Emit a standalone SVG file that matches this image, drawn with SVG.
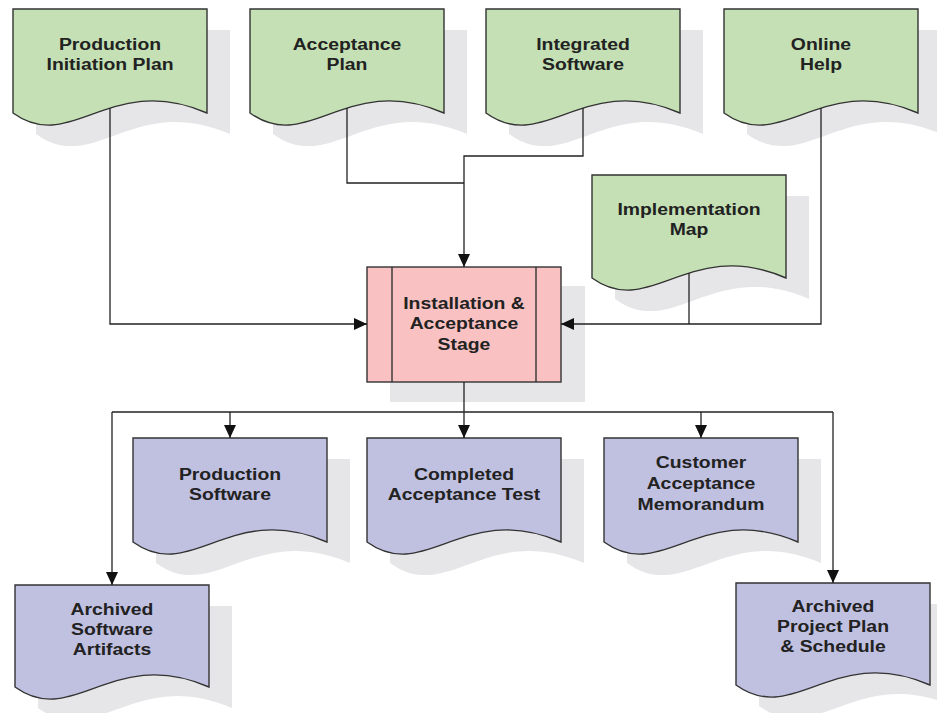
<svg xmlns="http://www.w3.org/2000/svg" width="937" height="713" viewBox="0 0 937 713">
<style>
.sh{fill:#e6e6e8;stroke:none}
.g{fill:#c4e0b4;stroke:#333;stroke-width:1.4}
.p{fill:#c0c0e0;stroke:#333;stroke-width:1.4}
.r{fill:#f9c1c1;stroke:#333;stroke-width:1.4}
.t{font-family:"Liberation Sans",Arial,sans-serif;font-weight:bold;font-size:17px;text-anchor:middle;fill:#222}
.c{fill:none;stroke:#222;stroke-width:1.3}
</style>
<defs>
<marker id="ah" viewBox="0 0 13 12" refX="13" refY="6" markerWidth="13" markerHeight="12" markerUnits="userSpaceOnUse" orient="auto">
<path d="M0,0 L13,6 L0,12 Z" fill="#111"/>
</marker>
</defs>

<g id="n-production-initiation-plan">
<path class="sh" transform="translate(23 21)" d="M13,9 H207 V113 C110,71 71.2,155 13,113 Z"/>
<path class="g" d="M13,9 H207 V113 C110,71 71.2,155 13,113 Z"/>
<text class="t" transform="translate(110 50) scale(1.14 1)"><tspan x="0" y="0">Production</tspan><tspan x="0" dy="20.5">Initiation Plan</tspan></text>
</g>

<g id="n-acceptance-plan">
<path class="sh" transform="translate(23 21)" d="M250,9 H444 V113 C347,71 308.2,155 250,113 Z"/>
<path class="g" d="M250,9 H444 V113 C347,71 308.2,155 250,113 Z"/>
<text class="t" transform="translate(347 50) scale(1.14 1)"><tspan x="0" y="0">Acceptance</tspan><tspan x="0" dy="20.5">Plan</tspan></text>
</g>

<g id="n-integrated-software">
<path class="sh" transform="translate(23 21)" d="M486,9 H680 V113 C583,71 544.2,155 486,113 Z"/>
<path class="g" d="M486,9 H680 V113 C583,71 544.2,155 486,113 Z"/>
<text class="t" transform="translate(583 50) scale(1.14 1)"><tspan x="0" y="0">Integrated</tspan><tspan x="0" dy="20.5">Software</tspan></text>
</g>

<g id="n-online-help">
<path class="sh" transform="translate(23 21)" d="M724,9 H918 V113 C821,71 782.2,155 724,113 Z"/>
<path class="g" d="M724,9 H918 V113 C821,71 782.2,155 724,113 Z"/>
<text class="t" transform="translate(821 50) scale(1.14 1)"><tspan x="0" y="0">Online</tspan><tspan x="0" dy="20.5">Help</tspan></text>
</g>

<g id="n-implementation-map">
<path class="sh" transform="translate(23 21)" d="M592,175 H786 V278 C689,236 650.2,320 592,278 Z"/>
<path class="g" d="M592,175 H786 V278 C689,236 650.2,320 592,278 Z"/>
<text class="t" transform="translate(689 215) scale(1.14 1)"><tspan x="0" y="0">Implementation</tspan><tspan x="0" dy="20.5">Map</tspan></text>
</g>

<g id="n-installation-acceptance-stage">
<rect class="sh" x="390" y="286" width="195" height="116"/>
<rect class="r" x="367" y="267" width="194" height="115"/>
<line class="r" x1="392" y1="267" x2="392" y2="382"/>
<line class="r" x1="536" y1="267" x2="536" y2="382"/>
<text class="t" transform="translate(464 309) scale(1.14 1)"><tspan x="0" y="0">Installation &amp;</tspan><tspan x="0" dy="20.5">Acceptance</tspan><tspan x="0" dy="20.5">Stage</tspan></text>
</g>

<g id="n-production-software">
<path class="sh" transform="translate(23 21)" d="M133,438 H327 V542 C230,500 191.2,584 133,542 Z"/>
<path class="p" d="M133,438 H327 V542 C230,500 191.2,584 133,542 Z"/>
<text class="t" transform="translate(230 480) scale(1.14 1)"><tspan x="0" y="0">Production</tspan><tspan x="0" dy="20.5">Software</tspan></text>
</g>

<g id="n-completed-acceptance-test">
<path class="sh" transform="translate(23 21)" d="M367,438 H561 V542 C464,500 425.2,584 367,542 Z"/>
<path class="p" d="M367,438 H561 V542 C464,500 425.2,584 367,542 Z"/>
<text class="t" transform="translate(464 480) scale(1.14 1)"><tspan x="0" y="0">Completed</tspan><tspan x="0" dy="20.5">Acceptance Test</tspan></text>
</g>

<g id="n-customer-acceptance-memorandum">
<path class="sh" transform="translate(23 21)" d="M604,438 H798 V542 C701,500 662.2,584 604,542 Z"/>
<path class="p" d="M604,438 H798 V542 C701,500 662.2,584 604,542 Z"/>
<text class="t" transform="translate(701 468) scale(1.14 1)"><tspan x="0" y="0">Customer</tspan><tspan x="0" dy="21">Acceptance</tspan><tspan x="0" dy="21">Memorandum</tspan></text>
</g>

<g id="n-archived-software-artifacts">
<path class="sh" transform="translate(23 21)" d="M15,585 H209 V687 C112,645 73.2,729 15,687 Z"/>
<path class="p" d="M15,585 H209 V687 C112,645 73.2,729 15,687 Z"/>
<text class="t" transform="translate(112 615) scale(1.14 1)"><tspan x="0" y="0">Archived</tspan><tspan x="0" dy="20">Software</tspan><tspan x="0" dy="20">Artifacts</tspan></text>
</g>

<g id="n-archived-project-plan-schedule">
<path class="sh" transform="translate(23 21)" d="M736,583 H930 V685 C833,643 794.2,727 736,685 Z"/>
<path class="p" d="M736,583 H930 V685 C833,643 794.2,727 736,685 Z"/>
<text class="t" transform="translate(833 612) scale(1.14 1)"><tspan x="0" y="0">Archived</tspan><tspan x="0" dy="20">Project Plan</tspan><tspan x="0" dy="20">&amp; Schedule</tspan></text>
</g>

<g id="connectors">
<path class="c" d="M110,108 V324 H367" marker-end="url(#ah)"/>
<path class="c" d="M347,108 V183 H464"/>
<path class="c" d="M583,108 V156 H464 V267" marker-end="url(#ah)"/>
<path class="c" d="M821,108 V324 H561" marker-end="url(#ah)"/>
<path class="c" d="M689,273 V324"/>
<path class="c" d="M464,382 V438" marker-end="url(#ah)"/>
<path class="c" d="M112,412 H833"/>
<path class="c" d="M112,412 V585" marker-end="url(#ah)"/>
<path class="c" d="M230,412 V438" marker-end="url(#ah)"/>
<path class="c" d="M701,412 V438" marker-end="url(#ah)"/>
<path class="c" d="M833,412 V583" marker-end="url(#ah)"/>
</g>
</svg>
